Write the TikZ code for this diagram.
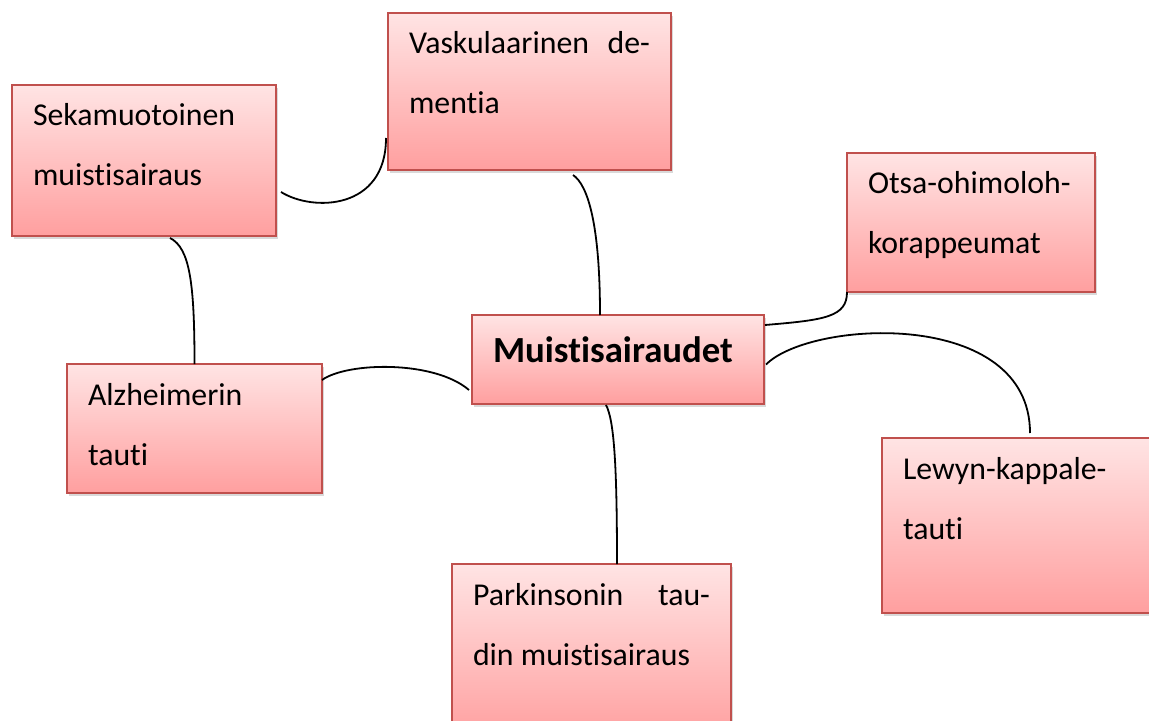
\documentclass[tikz,border=0pt]{standalone}
\usepackage{fontspec}
\setmainfont{Carlito}[Ligatures=NoCommon]
\usetikzlibrary{shadows}
\definecolor{boxred}{HTML}{C0504D}
\definecolor{pinktop}{HTML}{FFE4E4}
\definecolor{pinkbot}{HTML}{FF9F9F}
\newcommand{\bodyfont}{\fontsize{15.9}{30}\selectfont}
\tikzset{
  ddbox/.style={rectangle, draw=boxred, line width=0.9pt,
    top color=pinktop, bottom color=pinkbot,
    drop shadow={shadow xshift=1.2pt, shadow yshift=-1.6pt, opacity=0.3},
    anchor=north west, outer sep=0pt, inner xsep=10.5pt, inner ysep=0pt,
    align=flush left, font=\bodyfont, text height=20.5pt},
  link/.style={line width=0.9pt, black},
}
\begin{document}
\begin{tikzpicture}
\begin{scope}[x=0.5pt, y=-0.5pt]
  \useasboundingbox (0,0) rectangle (1149,721);
  \clip (0,0) rectangle (1149,721);
  % Boxes
  \node[ddbox, text width=111pt, text depth=55pt] (seka) at (12,85) {Sekamuotoinen\\muistisairaus};
  \node[ddbox, text width=120.5pt, text depth=58pt] (vasku) at (388,13) {Vaskulaarinen \hfill de-\\mentia};
  \node[ddbox, text width=103pt, text depth=49pt] (otsa) at (847,153) {Otsa-ohimoloh-\\korappeumat};
  \node[ddbox, text width=125pt, text height=23.5pt, text depth=21pt,
    font=\fontsize{18.4}{22}\selectfont\bfseries] (muisti) at (472,315) {Muistisairaudet};
  \node[ddbox, text width=106.5pt, text depth=44pt] (alz) at (67,364) {Alzheimerin\\tauti};
  \node[ddbox, text width=124pt, text depth=67pt] (lewyn) at (882,438) {Lewyn-kappale-\\tauti};
  \node[ddbox, text width=118.5pt, text depth=67pt] (park) at (452,564) {Parkinsonin \hfill tau-\\din muistisairaus};
  % Curved connectors
  \draw[link] ([shift={(5,31.5)}]seka.east) .. controls +(32,20) and +(0,72) .. ([shift={(-2,46.5)}]vasku.west);
  \draw[link] ([shift={(26,2)}]seka.south) .. controls +(20,10) and +(0,-80) .. (alz.north);
  \draw[link] ([shift={(43.5,5)}]vasku.south) .. controls +(15,10) and +(0,-90) .. ([shift={(-18,0)}]muisti.north);
  \draw[link] ([shift={(-12,1)}]muisti.south) .. controls +(8,15) and +(0,-100) .. ([shift={(25.5,0)}]park.north);
  \draw[link] ([shift={(0,16)}]alz.north east) .. controls +(25,-18) and +(-35,-30) .. ([shift={(-3,30.5)}]muisti.west);
  \draw[link] ([shift={(1,10)}]muisti.north east) .. controls +(60,-5) and +(0,25) .. (otsa.south west);
  \draw[link] ([shift={(2,5)}]muisti.east) .. controls +(45,-45) and +(0,-125) .. ([shift={(148,-5)}]lewyn.north west);
\end{scope}
\end{tikzpicture}
\end{document}
